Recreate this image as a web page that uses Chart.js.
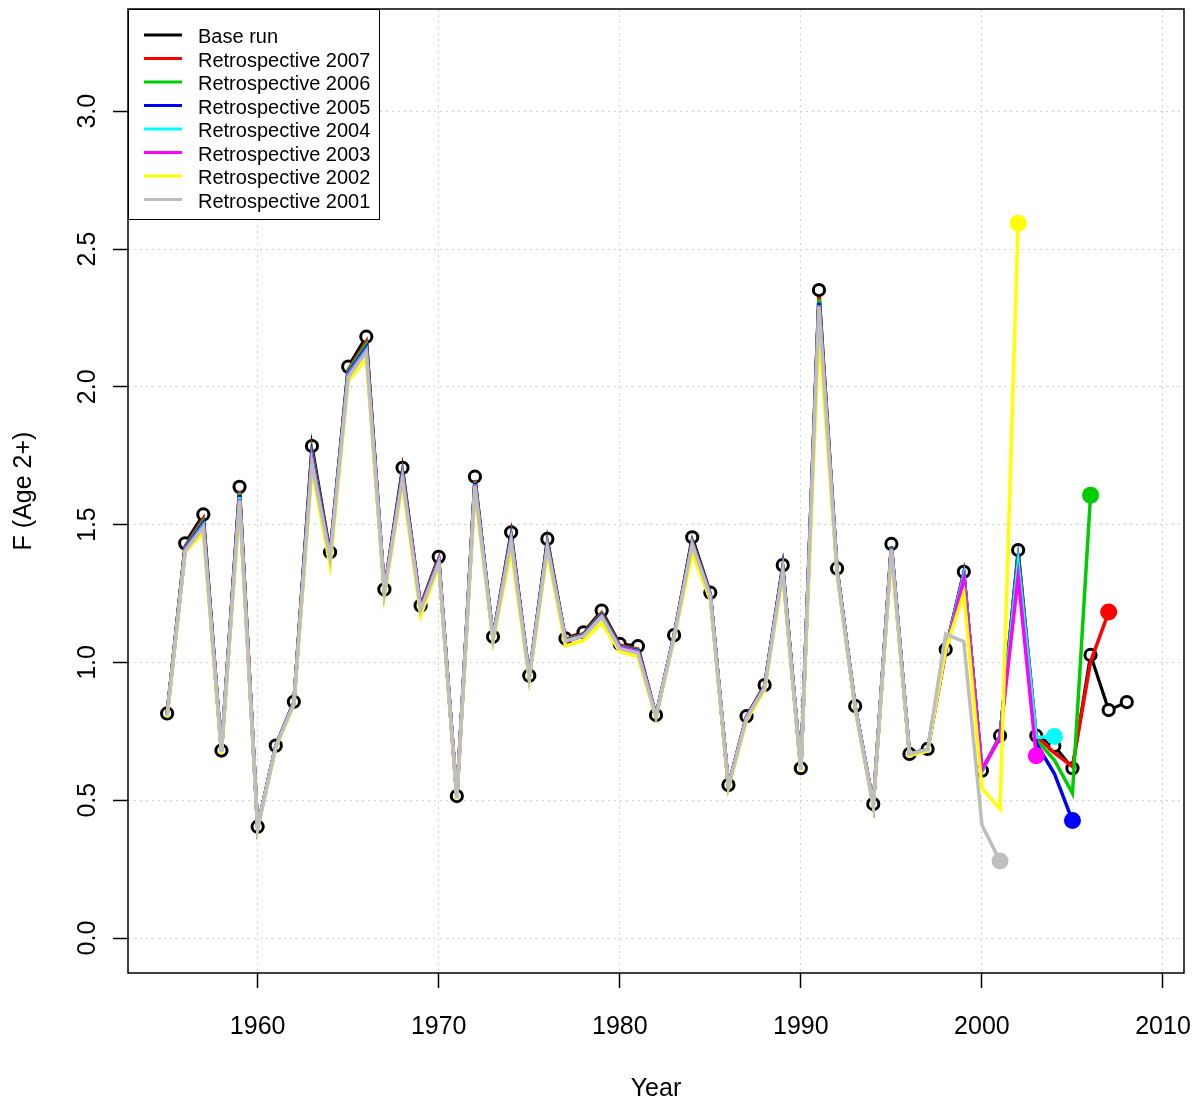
<!DOCTYPE html>
<html>
<head>
<meta charset="utf-8">
<title>Retrospective F (Age 2+)</title>
<script src="https://cdn.jsdelivr.net/npm/chart.js@4.4.1/dist/chart.umd.min.js"></script>
<style>
  html, body { margin: 0; padding: 0; background: #fff; }
  canvas { display: block; }
</style>
</head>
<body>
<canvas id="retroChart" width="1201" height="1101"></canvas>
<script>
// years of the assessment (base run covers all of them, retros stop earlier)
const years = [1955, 1956, 1957, 1958, 1959, 1960, 1961, 1962, 1963, 1964,
  1965, 1966, 1967, 1968, 1969, 1970, 1971, 1972, 1973, 1974,
  1975, 1976, 1977, 1978, 1979, 1980, 1981, 1982, 1983, 1984,
  1985, 1986, 1987, 1988, 1989, 1990, 1991, 1992, 1993, 1994,
  1995, 1996, 1997, 1998, 1999, 2000, 2001, 2002, 2003, 2004,
  2005, 2006, 2007, 2008];

const baseRun = [0.815, 1.432, 1.537, 0.680, 1.637, 0.404, 0.698, 0.857, 1.785, 1.400,
  2.073, 2.182, 1.265, 1.706, 1.206, 1.383, 0.515, 1.674, 1.093, 1.472,
  0.952, 1.448, 1.087, 1.109, 1.188, 1.067, 1.059, 0.809, 1.099, 1.454,
  1.253, 0.555, 0.805, 0.918, 1.353, 0.616, 2.351, 1.341, 0.842, 0.486,
  1.430, 0.668, 0.686, 1.047, 1.329, 0.607, 0.734, 1.408, 0.734, 0.697,
  0.616, 1.027, 0.827, 0.856];

const retro2007 = [0.812, 1.422, 1.522, 0.679, 1.622, 0.403, 0.697, 0.855, 1.765, 1.392,
  2.062, 2.164, 1.262, 1.692, 1.202, 1.375, 0.513, 1.662, 1.091, 1.462,
  0.950, 1.436, 1.083, 1.104, 1.180, 1.062, 1.049, 0.808, 1.098, 1.442,
  1.249, 0.554, 0.803, 0.914, 1.345, 0.614, 2.327, 1.338, 0.840, 0.485,
  1.422, 0.667, 0.684, 1.046, 1.325, 0.607, 0.733, 1.392, 0.733, 0.672,
  0.622, 1.003, 1.183];

const retro2006 = [0.811, 1.418, 1.514, 0.679, 1.615, 0.403, 0.697, 0.854, 1.758, 1.389,
  2.057, 2.155, 1.260, 1.686, 1.200, 1.371, 0.512, 1.657, 1.090, 1.456,
  0.949, 1.431, 1.081, 1.102, 1.176, 1.059, 1.046, 0.807, 1.097, 1.438,
  1.247, 0.553, 0.802, 0.912, 1.341, 0.613, 2.318, 1.336, 0.839, 0.485,
  1.419, 0.667, 0.683, 1.045, 1.322, 0.607, 0.733, 1.382, 0.720, 0.646,
  0.525, 1.607];

const retro2005 = [0.810, 1.414, 1.505, 0.678, 1.607, 0.402, 0.696, 0.853, 1.749, 1.386,
  2.050, 2.143, 1.258, 1.680, 1.198, 1.368, 0.511, 1.652, 1.089, 1.451,
  0.948, 1.427, 1.079, 1.099, 1.172, 1.057, 1.043, 0.806, 1.096, 1.434,
  1.245, 0.552, 0.801, 0.911, 1.338, 0.612, 2.305, 1.334, 0.838, 0.484,
  1.416, 0.667, 0.683, 1.045, 1.319, 0.607, 0.731, 1.370, 0.706, 0.597,
  0.426];

const retro2004 = [0.810, 1.411, 1.498, 0.678, 1.600, 0.402, 0.696, 0.852, 1.738, 1.383,
  2.044, 2.134, 1.257, 1.675, 1.196, 1.365, 0.511, 1.646, 1.088, 1.446,
  0.947, 1.422, 1.077, 1.097, 1.168, 1.055, 1.040, 0.806, 1.095, 1.430,
  1.243, 0.552, 0.800, 0.910, 1.334, 0.611, 2.296, 1.332, 0.837, 0.484,
  1.413, 0.666, 0.682, 1.044, 1.315, 0.608, 0.730, 1.360, 0.728, 0.731];

const retro2003 = [0.809, 1.409, 1.493, 0.678, 1.592, 0.402, 0.696, 0.852, 1.732, 1.381,
  2.040, 2.130, 1.256, 1.672, 1.195, 1.363, 0.510, 1.643, 1.087, 1.443,
  0.946, 1.420, 1.076, 1.096, 1.166, 1.054, 1.038, 0.805, 1.094, 1.428,
  1.242, 0.551, 0.800, 0.909, 1.331, 0.611, 2.292, 1.331, 0.836, 0.483,
  1.410, 0.666, 0.682, 1.040, 1.302, 0.613, 0.726, 1.311, 0.661];

const retro2002 = [0.800, 1.402, 1.470, 0.668, 1.570, 0.398, 0.690, 0.846, 1.700, 1.352,
  2.022, 2.102, 1.245, 1.650, 1.170, 1.350, 0.505, 1.620, 1.078, 1.408,
  0.938, 1.400, 1.060, 1.080, 1.143, 1.040, 1.021, 0.800, 1.088, 1.397,
  1.228, 0.545, 0.790, 0.900, 1.318, 0.605, 2.200, 1.322, 0.830, 0.478,
  1.390, 0.662, 0.678, 1.048, 1.251, 0.544, 0.468, 2.594];

const retro2001 = [0.806, 1.405, 1.490, 0.675, 1.588, 0.400, 0.694, 0.850, 1.722, 1.378,
  2.035, 2.127, 1.254, 1.667, 1.190, 1.360, 0.508, 1.640, 1.086, 1.440,
  0.945, 1.418, 1.078, 1.095, 1.166, 1.050, 1.034, 0.804, 1.093, 1.428,
  1.240, 0.550, 0.798, 0.908, 1.330, 0.610, 2.290, 1.330, 0.835, 0.482,
  1.410, 0.668, 0.684, 1.103, 1.075, 0.410, 0.279];

const seriesLabels = ['Base run', 'Retrospective 2007', 'Retrospective 2006', 'Retrospective 2005',
  'Retrospective 2004', 'Retrospective 2003', 'Retrospective 2002', 'Retrospective 2001'];
const seriesColors = ['#000000', '#FF0000', '#00CD00', '#0000FF', '#00FFFF', '#FF00FF', '#FFFF00', '#BEBEBE'];

const xTicks = [1960, 1970, 1980, 1990, 2000, 2010];
const yTicks = [0, 0.5, 1, 1.5, 2, 2.5, 3];
const yTickLabels = ['0.0', '0.5', '1.0', '1.5', '2.0', '2.5', '3.0'];

const allSeries = [baseRun, retro2007, retro2006, retro2005, retro2004, retro2003, retro2002, retro2001];

Chart.defaults.font.family = "'Liberation Sans', Arial, Helvetica, sans-serif";
Chart.defaults.color = '#000';

const datasets = allSeries.map((vals, i) => {
  const pts = vals.map((v, j) => ({ x: years[j], y: v }));
  if (i === 0) {
    return {
      label: seriesLabels[i], data: pts,
      borderColor: seriesColors[i], borderWidth: 3.2,
      pointRadius: 5.6, pointBorderWidth: 3,
      pointBackgroundColor: '#fff', pointBorderColor: '#000',
      order: 8
    };
  }
  return {
    label: seriesLabels[i], data: pts,
    borderColor: seriesColors[i], borderWidth: 3.5,
    // only the terminal year of each retrospective gets a dot
    pointRadius: ctx => (ctx.dataIndex === vals.length - 1 ? 8.5 : 0),
    pointBorderWidth: 0,
    pointBackgroundColor: seriesColors[i], pointBorderColor: seriesColors[i],
    order: 8 - i
  };
});

// R style legend box in the top-left corner + plot frame
const legendAndFrame = {
  id: 'legendAndFrame',
  afterDraw(chart) {
    const { ctx, chartArea } = chart;
    const x0 = chartArea.left, y0 = chartArea.top;
    ctx.save();
    ctx.fillStyle = '#fff';
    ctx.fillRect(x0, y0, 251, 210);
    ctx.strokeStyle = '#000';
    ctx.lineWidth = 1;
    ctx.strokeRect(x0 + 0.5, y0 + 0.5, 251, 210);
    ctx.font = "20px 'Liberation Sans', Arial, sans-serif";
    ctx.textBaseline = 'middle';
    ctx.textAlign = 'left';
    chart.data.datasets.forEach((ds, i) => {
      const y = y0 + 26 + i * 23.5;
      ctx.strokeStyle = ds.borderColor;
      ctx.lineWidth = 3;
      ctx.beginPath();
      ctx.moveTo(x0 + 16, y);
      ctx.lineTo(x0 + 54, y);
      ctx.stroke();
      ctx.fillStyle = '#000';
      ctx.fillText(ds.label, x0 + 70, y + 2.5);
    });
    ctx.strokeStyle = '#000';
    ctx.lineWidth = 1.5;
    ctx.strokeRect(chartArea.left, chartArea.top, chartArea.width, chartArea.height);
    ctx.restore();
  }
};

const gridOpts = { color: '#D3D3D3', lineWidth: 1, drawTicks: true, tickLength: 15, tickColor: '#000', tickWidth: 1.5, tickBorderDash: [] };

new Chart(document.getElementById('retroChart').getContext('2d'), {
  type: 'line',
  data: { datasets: datasets },
  options: {
    responsive: false,
    devicePixelRatio: 1,
    animation: false,
    events: [],
    elements: { line: { tension: 0 } },
    layout: { padding: { top: 9, right: 17, left: 0, bottom: 0 } },
    plugins: { legend: { display: false }, tooltip: { enabled: false } },
    scales: {
      x: {
        type: 'linear', min: 1952.84, max: 2011.16,
        afterBuildTicks: s => { s.ticks = xTicks.map(v => ({ value: v })); },
        afterFit: s => { s.height = 128; s.paddingLeft = 0; s.paddingRight = 0; },
        ticks: { autoSkip: false, minRotation: 0, maxRotation: 0, padding: 24, font: { size: 25 }, callback: v => String(v) },
        grid: gridOpts,
        border: { display: false, dash: [2, 4] },
        title: { display: true, text: 'Year', font: { size: 25, lineHeight: 1 }, padding: { top: 0, bottom: -1 } }
      },
      y: {
        type: 'linear', min: -0.127, max: 3.371,
        afterBuildTicks: s => { s.ticks = yTicks.map(v => ({ value: v })); },
        afterFit: s => { s.width = 128; s.paddingTop = 0; s.paddingBottom = 0; },
        ticks: { autoSkip: false, minRotation: 90, maxRotation: 90, crossAlign: 'center', padding: 7.5, font: { size: 25 },
          callback: (v, i) => yTickLabels[i] },
        grid: gridOpts,
        border: { display: false, dash: [2, 4] },
        title: { display: true, text: 'F (Age 2+)', font: { size: 25, lineHeight: 1 }, padding: { top: 12, bottom: 0 } }
      }
    }
  },
  plugins: [legendAndFrame]
});
</script>
</body>
</html>
